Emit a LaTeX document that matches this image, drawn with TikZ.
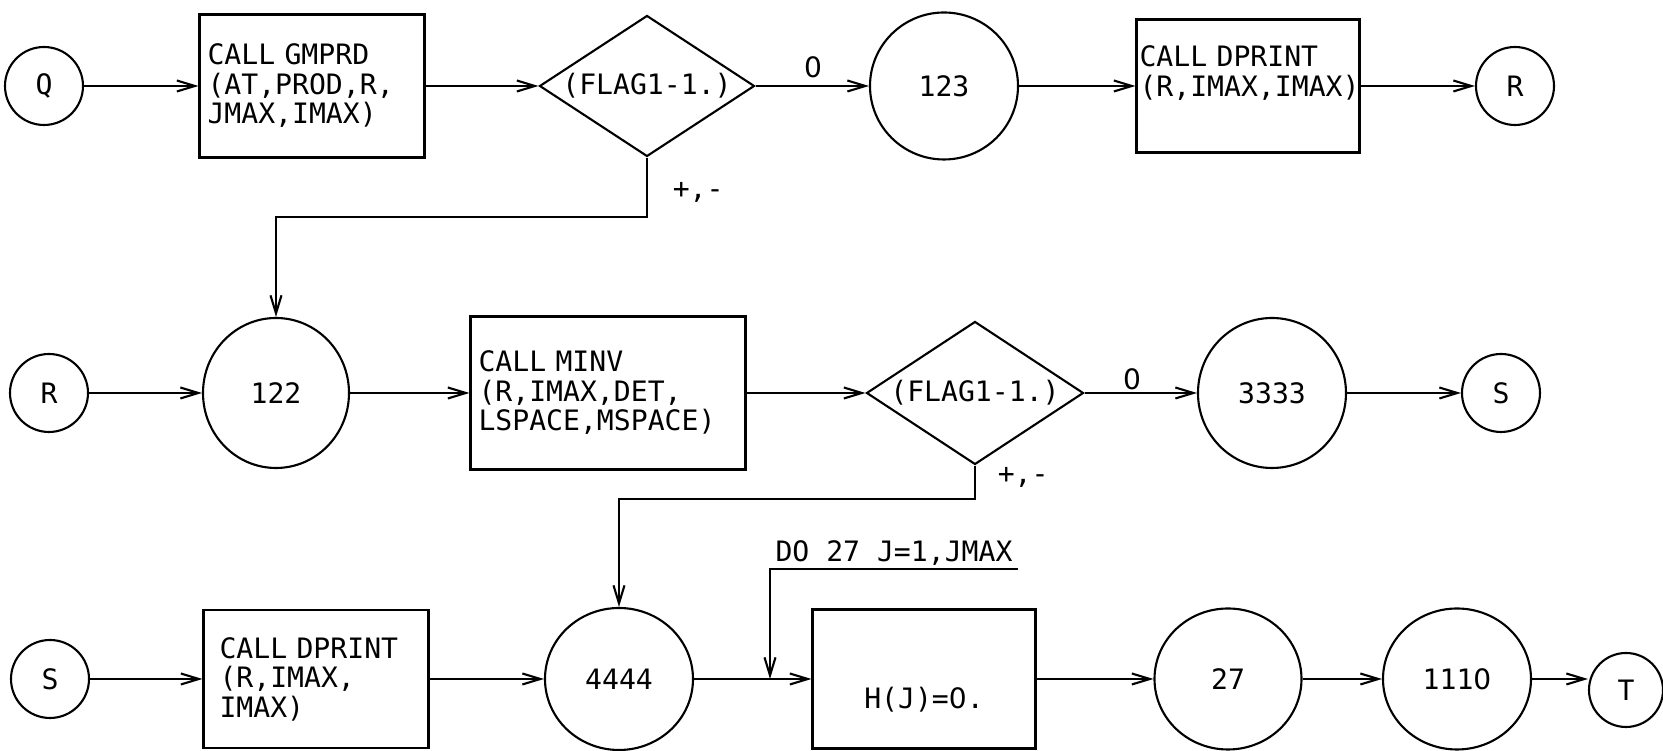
\documentclass[tikz,border=0pt]{standalone}
\usepackage{fontspec}
\setmainfont{DejaVu Sans Mono}
\newfontfamily\zerofont{DejaVu Sans}
\newcommand{\zr}{{\zerofont 0}}
\usetikzlibrary{arrows.meta,shapes.geometric}

\begin{document}
\begin{tikzpicture}[x=0.1mm,y=-0.1mm,semithick,>={Straight Barb[length=1.8mm,width=1.1mm]},
  every node/.style={font=\fontsize{8}{8.4}\selectfont},
  term/.style={draw,circle,inner sep=0pt,minimum size=7.8mm},
  lbl/.style={draw,ellipse,inner sep=0pt,minimum width=14.8mm,minimum height=14.6mm},
  proc/.style={draw,rectangle,align=left,inner xsep=0.8mm,inner ysep=0pt},
  test/.style={draw,diamond,shape aspect=1.53,inner sep=0pt,minimum width=21.5mm,minimum height=14.1mm}]
\useasboundingbox (0,0) rectangle (1663,751);
\node[term] (q1) at (44,86) {Q};
\node[proc,text width=20.9mm,minimum height=14.3mm] (gmprd) at (312,86) {CALL GMPRD\\(AT,PROD,R,\\JMAX,IMAX)};
\node[test] (flag1) at (647,86) {(FLAG1-1.)};
\node[lbl,minimum height=14.7mm] (c123) at (944,86) {123};
\node[proc,inner xsep=0.3mm,text width=21.7mm,minimum height=13.3mm] (dprint1) at (1248,86) {CALL DPRINT\\(R,IMAX,IMAX)\\\mbox{}};
\node[term] (r1) at (1515,86) {R};
\node[anchor=base] (z1) at (813,78) {\zr};
\node[anchor=west] (pm1) at (660,192) {+,-};
\node[term] (r2) at (49,393) {R};
\node[lbl,minimum width=14.6mm,minimum height=15mm] (c122) at (276,393) {122};
\node[proc,text width=25.9mm,minimum height=15.3mm] (minv) at (608,393) {CALL MINV\\(R,IMAX,DET,\\LSPACE,MSPACE)};
\node[test,minimum width=21.7mm,minimum height=14.3mm] (flag2) at (975,393) {(FLAG1-1.)};
\node[anchor=base] (z2) at (1132,390) {\zr};
\node[lbl,minimum height=15mm] (c3333) at (1272,393) {3333};
\node[term] (s1) at (1501,393) {S};
\node[anchor=west] (pm2) at (985,477) {+,-};
\node[term] (s2) at (50,679) {S};
\node[proc,inner xsep=1.6mm,text width=19.3mm,minimum height=13.8mm] (dprint2) at (316,679) {CALL DPRINT\\(R,IMAX,\\IMAX)};
\node[lbl,minimum height=14.2mm] (c4444) at (619,679) {4444};
\node[proc,align=center,minimum width=22.3mm,minimum height=13.9mm,text height=6.4mm,text depth=0.4mm] (hbox) at (924,679) {H(J)=\zr.};
\node[lbl,minimum width=14.7mm,minimum height=14.1mm] (c27) at (1228,679) {27};
\node[lbl,minimum height=14.1mm] (c1110) at (1457,679) {111\zr};
\node[term,minimum size=7.4mm] (t1) at (1626,690) {T};
\node (dolbl) at (894,553) {DO 27 J=1,JMAX};
\coordinate (j1) at (647,217);\coordinate (j2) at (975,499);
\coordinate (d1) at (770,569);\coordinate (d2) at (1018,569);
\draw[->] (flag1.south) -- (j1) -| (c122.north);
\draw[->] (flag2.south) -- (j2) -| (c4444.north);
\draw[->] (d2) -- (d1) -- (d1 |- hbox.west);
\foreach \a/\b in {q1/gmprd,gmprd/flag1,flag1/c123,c123/dprint1,dprint1/r1,
  r2/c122,c122/minv,minv/flag2,flag2/c3333,c3333/s1,
  s2/dprint2,dprint2/c4444,c4444/hbox,hbox/c27,c27/c1110}
  \draw[->] (\a) -- (\b);
\draw[->] (c1110.east) -- (c1110.east -| t1.west);
\end{tikzpicture}
\end{document}
